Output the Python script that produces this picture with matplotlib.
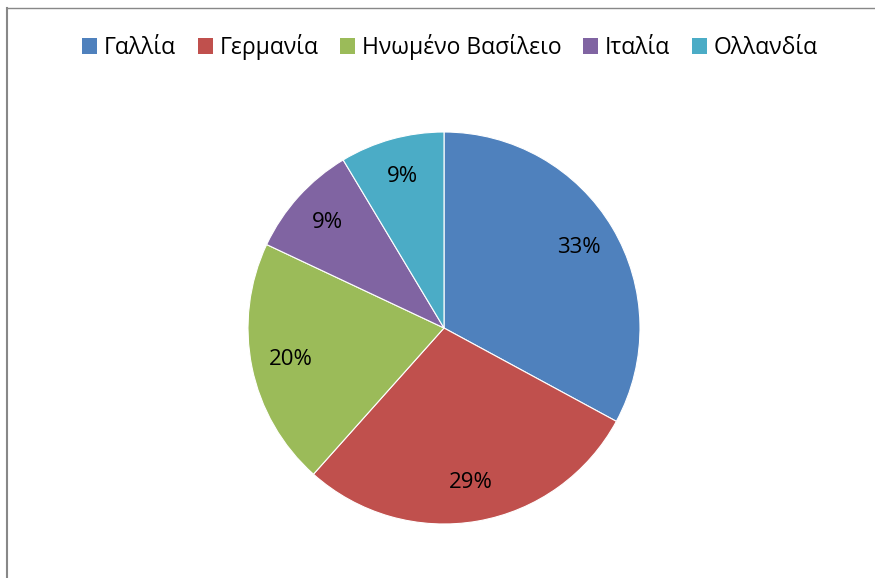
#!/usr/bin/env python3
"""Pie chart of shares by country (Greek labels)."""

import matplotlib
matplotlib.use("Agg")
import matplotlib.pyplot as plt
from matplotlib.patches import Patch
from matplotlib.lines import Line2D

countries = ["Γαλλία", "Γερμανία", "Ηνωμένο Βασίλειο", "Ιταλία", "Ολλανδία"]
shares = [32.9, 28.7, 20.4, 9.4, 8.6]
colors = ["#4f81bd", "#c0504d", "#9bbb59", "#8064a2", "#4bacc6"]

plt.rcParams["font.family"] = ["Open Sans", "DejaVu Sans"]

W, H = 875, 578
fig = plt.figure(figsize=(W / 100, H / 100), dpi=100)

cx, cy, r = 444, 328, 196
ax = fig.add_axes([(cx - r) / W, 1 - (cy + r) / H, 2 * r / W, 2 * r / H])
ax.pie(
    shares,
    colors=colors,
    startangle=90,
    counterclock=False,
    autopct=lambda p: f"{p:.0f}%",
    pctdistance=0.8,
    radius=1.0,
    wedgeprops={"edgecolor": "white", "linewidth": 0.8},
    textprops={"fontsize": 16, "color": "black"},
)
ax.set_xlim(-1, 1)
ax.set_ylim(-1, 1)
ax.set_aspect("auto")
ax.axis("off")

handles = [Patch(facecolor=c, edgecolor="none") for c in colors]
fig.legend(
    handles, countries,
    loc="center", bbox_to_anchor=(450 / W, 1 - 47 / H), ncol=5, frameon=False,
    fontsize=16.5, handlelength=0.65, handleheight=0.65, handletextpad=0.3,
    columnspacing=0.95,
)

# chart frame: only left and top edges visible
fig.add_artist(Line2D([6.5 / W, 6.5 / W], [0, 1 - 8 / H], color="#888888", lw=1.5,
                      transform=fig.transFigure))
fig.add_artist(Line2D([6.5 / W, 1], [1 - 8 / H, 1 - 8 / H], color="#888888", lw=1.0,
                      transform=fig.transFigure))

fig.savefig("out.png", dpi=100)
